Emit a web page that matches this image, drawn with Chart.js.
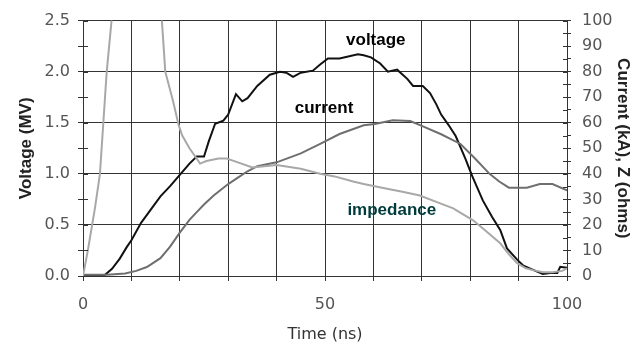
<!DOCTYPE html>
<html>
<head>
<meta charset="utf-8">
<script src="https://cdn.jsdelivr.net/npm/chart.js@4"></script>
<style>
  html, body { margin: 0; padding: 0; background: #fff; }
  #wrap { width: 639px; height: 345px; }
</style>
</head>
<body>
<div id="wrap"><canvas id="graphique" width="639" height="345"></canvas></div>
<script>
// Données
// Tension (MV)
var tensionX = [0, 4.5, 6, 7.6, 9, 10, 12, 14, 16, 18, 20, 22, 23.5, 25, 26, 27.3, 29, 30, 31.6, 32.9, 34, 36, 38.6, 40.7, 42, 43.4, 45, 47.5, 49, 50.6, 53, 56.8, 58, 59.5, 61.4, 63, 64.9, 67, 68.2, 70.2, 71.7, 73, 74, 75.5, 77, 79, 80.4, 82.6, 84.5, 86.2, 87.6, 89.7, 91, 93, 95, 96.5, 98, 98.6, 100];
var tensionY = [0, 0.01, 0.07, 0.17, 0.28, 0.35, 0.52, 0.65, 0.78, 0.88, 0.99, 1.1, 1.17, 1.17, 1.32, 1.49, 1.52, 1.58, 1.78, 1.71, 1.74, 1.86, 1.97, 2.0, 1.99, 1.95, 1.99, 2.01, 2.07, 2.13, 2.13, 2.17, 2.16, 2.14, 2.08, 2.0, 2.02, 1.93, 1.86, 1.86, 1.79, 1.68, 1.58, 1.48, 1.37, 1.15, 0.98, 0.74, 0.58, 0.45, 0.27, 0.16, 0.1, 0.06, 0.02, 0.03, 0.03, 0.09, 0.08];

// Courant (kA)
var courantX = [0, 5, 8.7, 11, 13.2, 16, 18, 20, 22, 23.5, 25, 27, 30, 32, 34, 36, 40, 45, 49, 53, 58, 60.3, 64, 67.6, 70, 74, 78, 81, 84, 86, 88, 91.7, 94.4, 97, 100];
var courantY = [0.5, 0.5, 1, 2, 3.5, 7, 11.5, 17, 22, 25, 28, 31.5, 36, 38.5, 41, 43, 44.5, 48, 51.7, 55.6, 59, 59.5, 61, 60.7, 58.8, 55.5, 51.7, 46, 40, 37, 34.6, 34.6, 36, 36, 33.5];

// Impédance (ohms)
var impedanceX = [0, 1, 2.5, 3.5, 4.2, 4.9, 5.9, 8, 12, 15, 16.3, 17, 18.6, 19.7, 20.5, 22, 24.2, 25.5, 28, 29.7, 32, 35, 40, 45, 49, 52, 55.8, 58, 62.8, 66, 69.6, 73, 76.5, 80.6, 83, 86.2, 88, 89.7, 91.5, 93, 95, 97, 99, 100];
var impedanceY = [0, 10, 27, 40, 60, 80, 100, 140, 150, 120, 100, 80, 68.5, 59.5, 55, 50, 44, 45, 46, 46, 44.5, 42.5, 43.5, 42, 40, 39, 37, 36, 34.2, 33, 31.5, 29, 26.5, 21.8, 18, 12.8, 8.5, 5, 3, 2.3, 1.5, 1.5, 2, 3];

// Étiquettes des courbes (texte, position en unités des axes x / y gauche)
var etiquettesTexte = ['voltage', 'current', 'impedance'];
var etiquettesX = [60.5, 49.8, 63.8];
var etiquettesY = [2.305, 1.64, 0.64];
var etiquettesCouleur = ['#000000', '#000000', '#003b3b'];

// Graduations affichées
var graduationsX = [0, 50, 100];

function versXY(xs, ys) {
    var donnees = [];
    for (var i = 0; i < xs.length; i++) {
        donnees.push({ x: xs[i], y: ys[i] });
    }
    return donnees;
}

var couleurGrille = '#333333';

// Plugin pour écrire les noms des courbes et prolonger les graduations vers l'intérieur
var pluginEtiquettes = {
    id: 'etiquettes',
    afterDatasetsDraw: function(chart) {
        var ctx = chart.ctx;
        var sx = chart.scales.x, sy = chart.scales.y, sy2 = chart.scales.y2;
        ctx.save();
        //-Petites graduations qui traversent les axes verticaux
        ctx.strokeStyle = couleurGrille;
        ctx.lineWidth = 1;
        ctx.beginPath();
        sy.ticks.forEach(function(t) {
            var py = Math.round(sy.getPixelForValue(t.value)) + 0.5;
            ctx.moveTo(sy.right, py); ctx.lineTo(sy.right + 5, py);
        });
        sy2.ticks.forEach(function(t) {
            var py = Math.round(sy2.getPixelForValue(t.value)) + 0.5;
            ctx.moveTo(sy2.left - 4, py); ctx.lineTo(sy2.left, py);
        });
        ctx.stroke();
        //-Noms des courbes
        ctx.font = 'bold 17px "Liberation Sans", Arial, sans-serif';
        ctx.textAlign = 'center';
        ctx.textBaseline = 'middle';
        for (var i = 0; i < etiquettesTexte.length; i++) {
            ctx.fillStyle = etiquettesCouleur[i];
            ctx.fillText(etiquettesTexte[i], sx.getPixelForValue(etiquettesX[i]), sy.getPixelForValue(etiquettesY[i]));
        }
        ctx.restore();
    }
};

var ctx = document.getElementById('graphique').getContext('2d');
var graphique = new Chart(ctx, {
    type: 'line',
    data: {
        datasets: [{
            label: 'impedance',
            data: versXY(impedanceX, impedanceY),
            yAxisID: 'y2',
            borderColor: '#a8a8a8',
            borderWidth: 2,
            pointRadius: 0,
            clip: 0
        }, {
            label: 'current',
            data: versXY(courantX, courantY),
            yAxisID: 'y2',
            borderColor: '#6f6f6f',
            borderWidth: 2,
            pointRadius: 0,
            clip: 0
        }, {
            label: 'voltage',
            data: versXY(tensionX, tensionY),
            yAxisID: 'y',
            borderColor: '#111111',
            borderWidth: 2,
            pointRadius: 0,
            clip: 0
        }]
    },
    options: {
        responsive: false,
        animation: false,
        layout: { padding: { left: 0, right: 0, top: 19, bottom: 0 } },
        plugins: {
            legend: { display: false },
            tooltip: { enabled: false }
        },
        scales: {
            x: {
                type: 'linear',
                min: 0,
                max: 100,
                afterFit: function(axe) { axe.height = 69; },
                ticks: {
                    stepSize: 10,
                    autoSkip: false,
                    maxRotation: 0,
                    padding: 14,
                    color: '#555555',
                    font: { family: '"DejaVu Sans", sans-serif', size: 16 },
                    callback: function(v) { return graduationsX.indexOf(v) >= 0 ? String(v) : ''; }
                },
                grid: { color: couleurGrille, tickColor: couleurGrille, tickLength: 5 },
                border: { color: couleurGrille },
                title: {
                    display: true,
                    text: 'Time (ns)',
                    color: '#333333',
                    font: { family: '"DejaVu Sans", sans-serif', size: 16, lineHeight: 1 },
                    padding: { top: 0, bottom: 2 }
                }
            },
            y: {
                position: 'left',
                min: 0,
                max: 2.5,
                afterFit: function(axe) { axe.width = 83; },
                ticks: {
                    stepSize: 0.25,
                    autoSkip: false,
                    padding: 8,
                    color: '#555555',
                    font: { family: '"DejaVu Sans", sans-serif', size: 16 },
                    callback: function(v) { return Math.round(v * 100) % 50 === 0 ? v.toFixed(1) : ''; }
                },
                grid: {
                    color: function(c) { return Math.round(c.tick.value * 100) % 50 === 0 ? couleurGrille : 'rgba(0,0,0,0)'; },
                    tickColor: couleurGrille,
                    tickLength: 5
                },
                border: { color: couleurGrille },
                title: {
                    display: true,
                    text: 'Voltage (MV)',
                    color: '#222222',
                    font: { family: '"Liberation Sans", Arial, sans-serif', size: 17, weight: 'bold', lineHeight: 1 },
                    padding: { top: 17.5, bottom: 0 }
                }
            },
            y2: {
                position: 'right',
                min: 0,
                max: 100,
                afterFit: function(axe) { axe.width = 72; },
                ticks: {
                    stepSize: 5,
                    autoSkip: false,
                    padding: 11,
                    color: '#555555',
                    font: { family: '"DejaVu Sans", sans-serif', size: 16 },
                    callback: function(v) { return v % 10 === 0 ? String(v) : ''; }
                },
                grid: { drawOnChartArea: false, tickColor: couleurGrille, tickLength: 4 },
                border: { color: couleurGrille },
                title: {
                    display: true,
                    text: 'Current (kA), Z (ohms)',
                    color: '#222222',
                    font: { family: '"Liberation Sans", Arial, sans-serif', size: 17, weight: 'bold', lineHeight: 1 },
                    padding: { top: 7.5, bottom: 0 }
                }
            }
        }
    },
    plugins: [pluginEtiquettes]
});
</script>
</body>
</html>
